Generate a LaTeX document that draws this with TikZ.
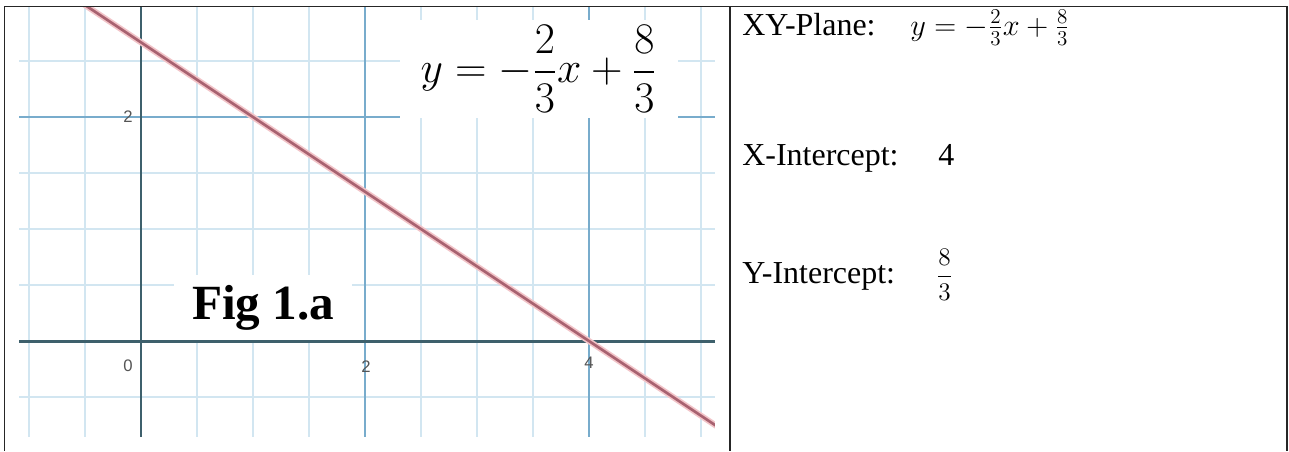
\documentclass[tikz,border=0pt]{standalone}
\usepackage{amsmath}
\usepackage{fontspec}
\setmainfont{Liberation Serif}
\newfontfamily\ticksans{Liberation Sans}
\usepackage{xcolor}
\usepackage{tikz}
\usetikzlibrary{
	arrows.meta, 
	calc, 
	positioning
}
\definecolor{GridMinor}{RGB}{210, 230, 241}
\definecolor{GridMajor}{RGB}{120, 172, 204}
\definecolor{AxisGrey}{RGB}{62, 96, 108}
\definecolor{LineRed}{RGB}{168, 98, 112}
\definecolor{LineHalo}{RGB}{242, 196, 200}
\definecolor{TickGrey}{RGB}{85, 85, 85}

\begin{document}
\begin{tikzpicture}[x=0.02cm, y=-0.02cm,
		tablerule/.style={line width=1.1pt, black!85},
		ticklabel/.style={font=\ticksans\fontsize{9.5}{11}\selectfont, text=TickGrey, inner sep=1pt},
		rowtext/.style={anchor=base west, inner sep=0pt, font=\fontsize{18.2}{21}\selectfont}]
		\useasboundingbox (0,0) rectangle (1289,451);
		% left cell: the graph
		\begin{scope}[shift={(141,341)}, x=2.24cm, y=2.24cm]
			\clip (-1.089,-0.857) rectangle (5.125,2.982);
			\fill[white] (-1.089,-0.857) rectangle (5.125,2.982);
			\draw[GridMinor, line width=0.7pt] (-1.089,-0.857) grid[step=0.5] (5.125,2.982);
			\draw[GridMajor, line width=0.7pt] (-1.089,-0.857) grid[step=2] (5.125,2.982);
			\node[fill=white, inner sep=0pt, minimum width=5.56cm, minimum height=1.96cm,
				font=\fontsize{25}{29}\selectfont] (eqn) at (3.55,2.43)
				{$\displaystyle y=-\frac{2}{3}x+\frac{8}{3}$};
			\node[fill=white, anchor=base, inner xsep=10pt, inner ysep=6pt,
				font=\bfseries\fontsize{28}{32}\selectfont] (fig) at (1.09,0.19) {Fig 1.a};
			\draw[AxisGrey, line width=1.7pt] (-1.089,0) -- (5.125,0);
			\draw[AxisGrey, line width=1.7pt] (0,-0.857) -- (0,2.982);
			\node[ticklabel] (t0) at (-0.115,-0.225) {0};
			\node[ticklabel] (t2x) at (2.01,-0.225) {2};
			\node[ticklabel] (t4x) at (4.0,-0.19) {4};
			\node[ticklabel] (t2y) at (-0.115,2.0) {2};
			\draw[LineHalo, line width=3.4pt, domain=-1.2:5.2, variable=\x] 
			plot ({\x}, {-2/3*\x+8/3});
			\draw[LineRed, line width=1.5pt, domain=-1.2:5.2, variable=\x] 
			plot ({\x}, {-2/3*\x+8/3});
		\end{scope}
		% table rules
		\draw[tablerule] (4,6.5) -- (1288,6.5);
		\draw[tablerule] (4.5,6) -- (4.5,451);
		\draw[tablerule] (730,6) -- (730,451);
		\draw[tablerule] (1287,6) -- (1287,451);
		% right cell: the facts
		\node[rowtext] (plane) at (742,35) {XY-Plane:};
		\node[rowtext] (planeeq) at (910,35) {$y=-\frac{2}{3}x+\frac{8}{3}$};
		\node[rowtext] (xint) at (742,165) {X-Intercept:};
		\node[rowtext] (xval) at (938,165) {4};
		\node[rowtext] (yint) at (742,283) {Y-Intercept:};
		\node[rowtext, font=\fontsize{15}{18}\selectfont] (yval) at (936,283) {$\displaystyle\frac{8}{3}$};
	\end{tikzpicture}
\end{document}
